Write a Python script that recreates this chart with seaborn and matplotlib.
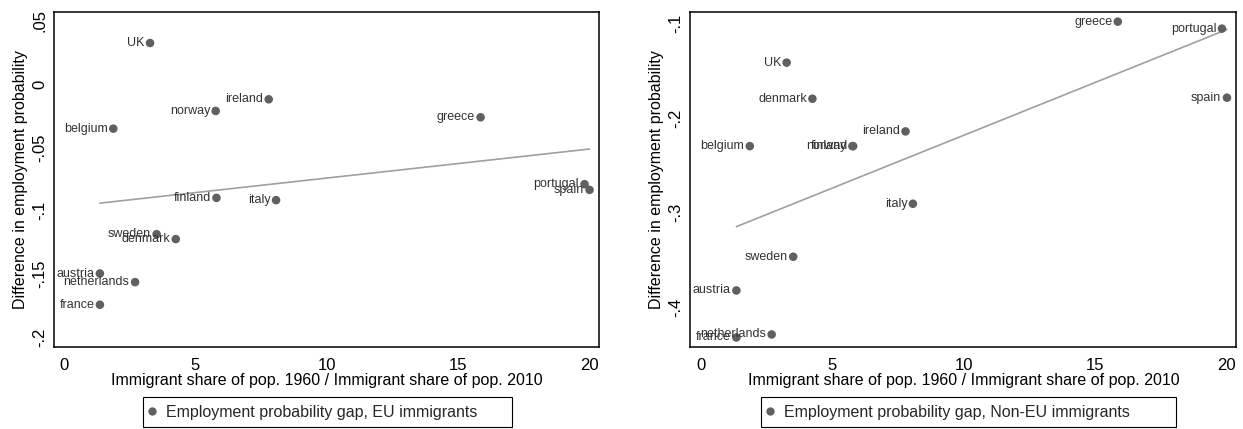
"""Employment probability gap vs. immigrant share ratio, EU and non-EU immigrants."""

import matplotlib
matplotlib.use("Agg")
import matplotlib.pyplot as plt
from matplotlib.lines import Line2D
from matplotlib.patches import Rectangle
from matplotlib.ticker import FuncFormatter
import pandas as pd
import seaborn as sns

countries = ["UK", "ireland", "norway", "belgium", "finland", "italy", "greece",
             "portugal", "spain", "sweden", "denmark", "austria", "netherlands", "france"]
share_ratio = [3.27, 7.79, 5.77, 1.87, 5.80, 8.07, 15.86,
               19.82, 20.01, 3.52, 4.25, 1.36, 2.70, 1.36]
gap_eu = [0.0324, -0.0121, -0.0213, -0.0353, -0.0900, -0.0918, -0.0263,
          -0.0792, -0.0837, -0.1187, -0.1226, -0.1498, -0.1566, -0.1745]
gap_noneu = [-0.1413, -0.2141, -0.2297, -0.2297, -0.2297, -0.2907, -0.0979,
             -0.1053, -0.1784, -0.3468, -0.1795, -0.3825, -0.4291, -0.4323]

x_ticks = [0, 5, 10, 15, 20]
y_ticks_eu = [0.05, 0, -0.05, -0.1, -0.15, -0.2]
y_ticks_noneu = [-0.1, -0.2, -0.3, -0.4]

MARKER = "#606060"
LINE = "#a0a0a0"
TEXT = "#333333"


def stata_fmt(v, _pos=None):
    s = f"{v:g}"
    s = s.replace("0.", ".")
    return s


def draw_panel(ax, df, ycol, yticks, ylim, legend_label, box_x):
    sns.regplot(data=df, x="x", y=ycol, ax=ax, scatter=False, ci=None,
                line_kws={"color": LINE, "lw": 1.2})
    sns.scatterplot(data=df, x="x", y=ycol, ax=ax, color=MARKER, s=38,
                    edgecolor="none", zorder=3)
    for _, row in df.iterrows():
        ax.annotate(row["country"], (row["x"], row[ycol]), xytext=(-4, 0),
                    textcoords="offset points", ha="right", va="center",
                    fontsize=9, color=TEXT)

    ax.set_xlim(-0.39, 20.37)
    ax.set_ylim(*ylim)
    ax.set_xticks(x_ticks)
    ax.set_yticks(yticks)
    ax.yaxis.set_major_formatter(FuncFormatter(stata_fmt))
    ax.tick_params(axis="both", direction="out", length=5, width=0.8,
                   color="black", labelsize=12, labelcolor="black", pad=3)
    ax.tick_params(axis="y", labelrotation=90, pad=0)
    for lab in ax.get_yticklabels():
        lab.set_verticalalignment("center")
    for sp in ax.spines.values():
        sp.set_visible(True)
        sp.set_color("black")
        sp.set_linewidth(1.1)

    ax.set_xlabel("Immigrant share of pop. 1960 / Immigrant share of pop. 2010",
                  fontsize=11.5, labelpad=0, color="black")
    ax.set_ylabel("Difference in employment probability", fontsize=11.5,
                  labelpad=3, color="black")

    # legend box below the plot, Stata style (extra room on the right)
    x0, x1 = box_x
    y0, y1 = -0.2388, -0.1493
    ax.add_patch(Rectangle((x0, y0), x1 - x0, y1 - y0, transform=ax.transAxes,
                           facecolor="white", edgecolor="black", lw=0.8,
                           clip_on=False))
    handle = Line2D([], [], marker="o", linestyle="none", color=MARKER,
                    markersize=6, markeredgewidth=0)
    ax.legend([handle], [legend_label], loc="center left",
              bbox_to_anchor=(x0 + 0.002, (y0 + y1) / 2), frameon=False,
              fontsize=11.5, handletextpad=0.375, borderpad=0,
              handlelength=1.0, borderaxespad=0)


def main():
    sns.set_theme(style="white")
    plt.rcParams["font.family"] = ["Liberation Sans", "DejaVu Sans"]

    df = pd.DataFrame({"country": countries, "x": share_ratio,
                       "eu": gap_eu, "noneu": gap_noneu})

    fig = plt.figure(figsize=(12.43, 4.29), dpi=100)
    ax1 = fig.add_axes([0.0434, 0.1911, 0.4385, 0.7809])
    ax2 = fig.add_axes([0.5554, 0.1911, 0.4393, 0.7809])

    draw_panel(ax1, df, "eu", y_ticks_eu, (-0.2079, 0.0569),
               "Employment probability gap, EU immigrants", (0.1633, 0.8404))
    draw_panel(ax2, df, "noneu", y_ticks_noneu, (-0.4424, -0.0877),
               "Employment probability gap, Non-EU immigrants", (0.129, 0.889))

    fig.savefig("out.png", dpi=100, facecolor="white")


if __name__ == "__main__":
    main()
